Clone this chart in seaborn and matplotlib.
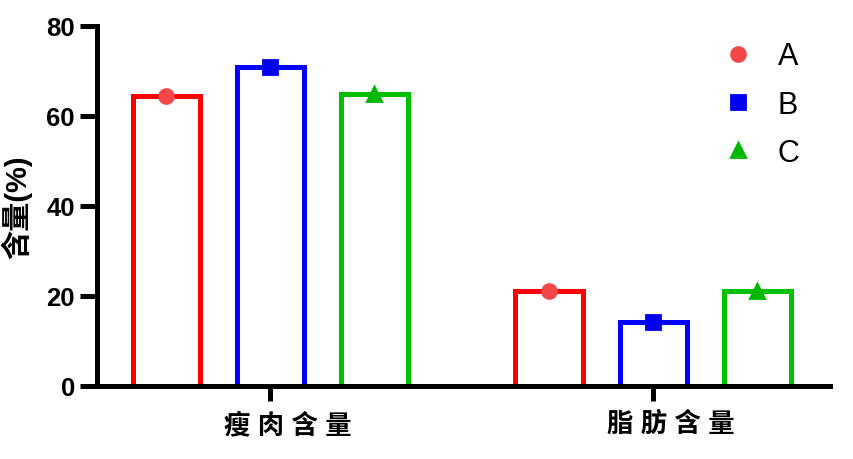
import matplotlib
matplotlib.use("Agg")
import matplotlib.pyplot as plt
import matplotlib.transforms as mtransforms
import pandas as pd
import seaborn as sns

# data
categories = ["瘦 肉 含 量", "脂 肪 含 量"]
groups = ["A", "B", "C"]
values_a = [64.5, 21.2]
values_b = [71.0, 14.2]
values_c = [65.0, 21.2]

bar_colors = ["#ff0000", "#0000ff", "#00c000"]
point_colors = ["#f44848", "#0000f0", "#00b800"]
markers = ["o", "s", "^"]

rows = []
for g, vals in zip(groups, [values_a, values_b, values_c]):
    for c, v in zip(categories, vals):
        rows.append({"category": c, "group": g, "value": v})
df = pd.DataFrame(rows)

sns.set_style("ticks")
plt.rcParams["font.family"] = ["Liberation Sans", "Noto Sans CJK SC"]
plt.rcParams["text.color"] = "black"
plt.rcParams["axes.labelcolor"] = "black"
plt.rcParams["xtick.color"] = "black"
plt.rcParams["ytick.color"] = "black"

W, H, DPI = 854, 460, 100
fig = plt.figure(figsize=(W / DPI, H / DPI), dpi=DPI)
ax = fig.add_axes([97 / W, (H - 387) / H, (830 - 97) / W, (387 - 27) / H])

sns.barplot(data=df, x="category", y="value", hue="group", hue_order=groups,
            order=categories, palette=bar_colors, fill=False, width=0.815,
            gap=0.355, linewidth=3.6, errorbar=None, legend=False, ax=ax)

sns.pointplot(data=df, x="category", y="value", hue="group", hue_order=groups,
              order=categories, palette=point_colors, markers=markers,
              linestyle="none", dodge=0.543, errorbar=None, markersize=10,
              ax=ax)

ax.set_xlim(-0.452, 1.462)
ax.set_ylim(0, 80)
ax.set_yticks([0, 20, 40, 60, 80])

for side in ["top", "right"]:
    ax.spines[side].set_visible(False)
for side in ["left", "bottom"]:
    ax.spines[side].set_linewidth(3.6)
    ax.spines[side].set_color("black")

ax.tick_params(axis="y", length=12, width=3.6, labelsize=18.5, pad=4)
ax.tick_params(axis="x", length=11, width=3.6, labelsize=19, pad=7)
for lab in ax.get_yticklabels():
    lab.set_fontweight("bold")
shift = mtransforms.ScaledTranslation(18 / DPI, 0, fig.dpi_scale_trans)
for lab in ax.get_xticklabels():
    lab.set_fontweight("bold")
    lab.set_transform(lab.get_transform() + shift)

ax.set_xlabel("")
ax.set_ylabel("含量(%)", fontsize=21, fontweight="bold")
ax.yaxis.set_label_coords(-0.109, 0.5)
ax.yaxis.label.set_verticalalignment("center")

handles, labels = ax.get_legend_handles_labels()
if ax.get_legend() is not None:
    ax.get_legend().remove()
leg = fig.legend(handles, labels, loc="upper left",
                 bbox_to_anchor=(680 / W, (H - 15) / H), frameon=False,
                 fontsize=22, handletextpad=0.3, labelspacing=0.6,
                 markerscale=1.0)

fig.savefig("out.png", dpi=DPI)
